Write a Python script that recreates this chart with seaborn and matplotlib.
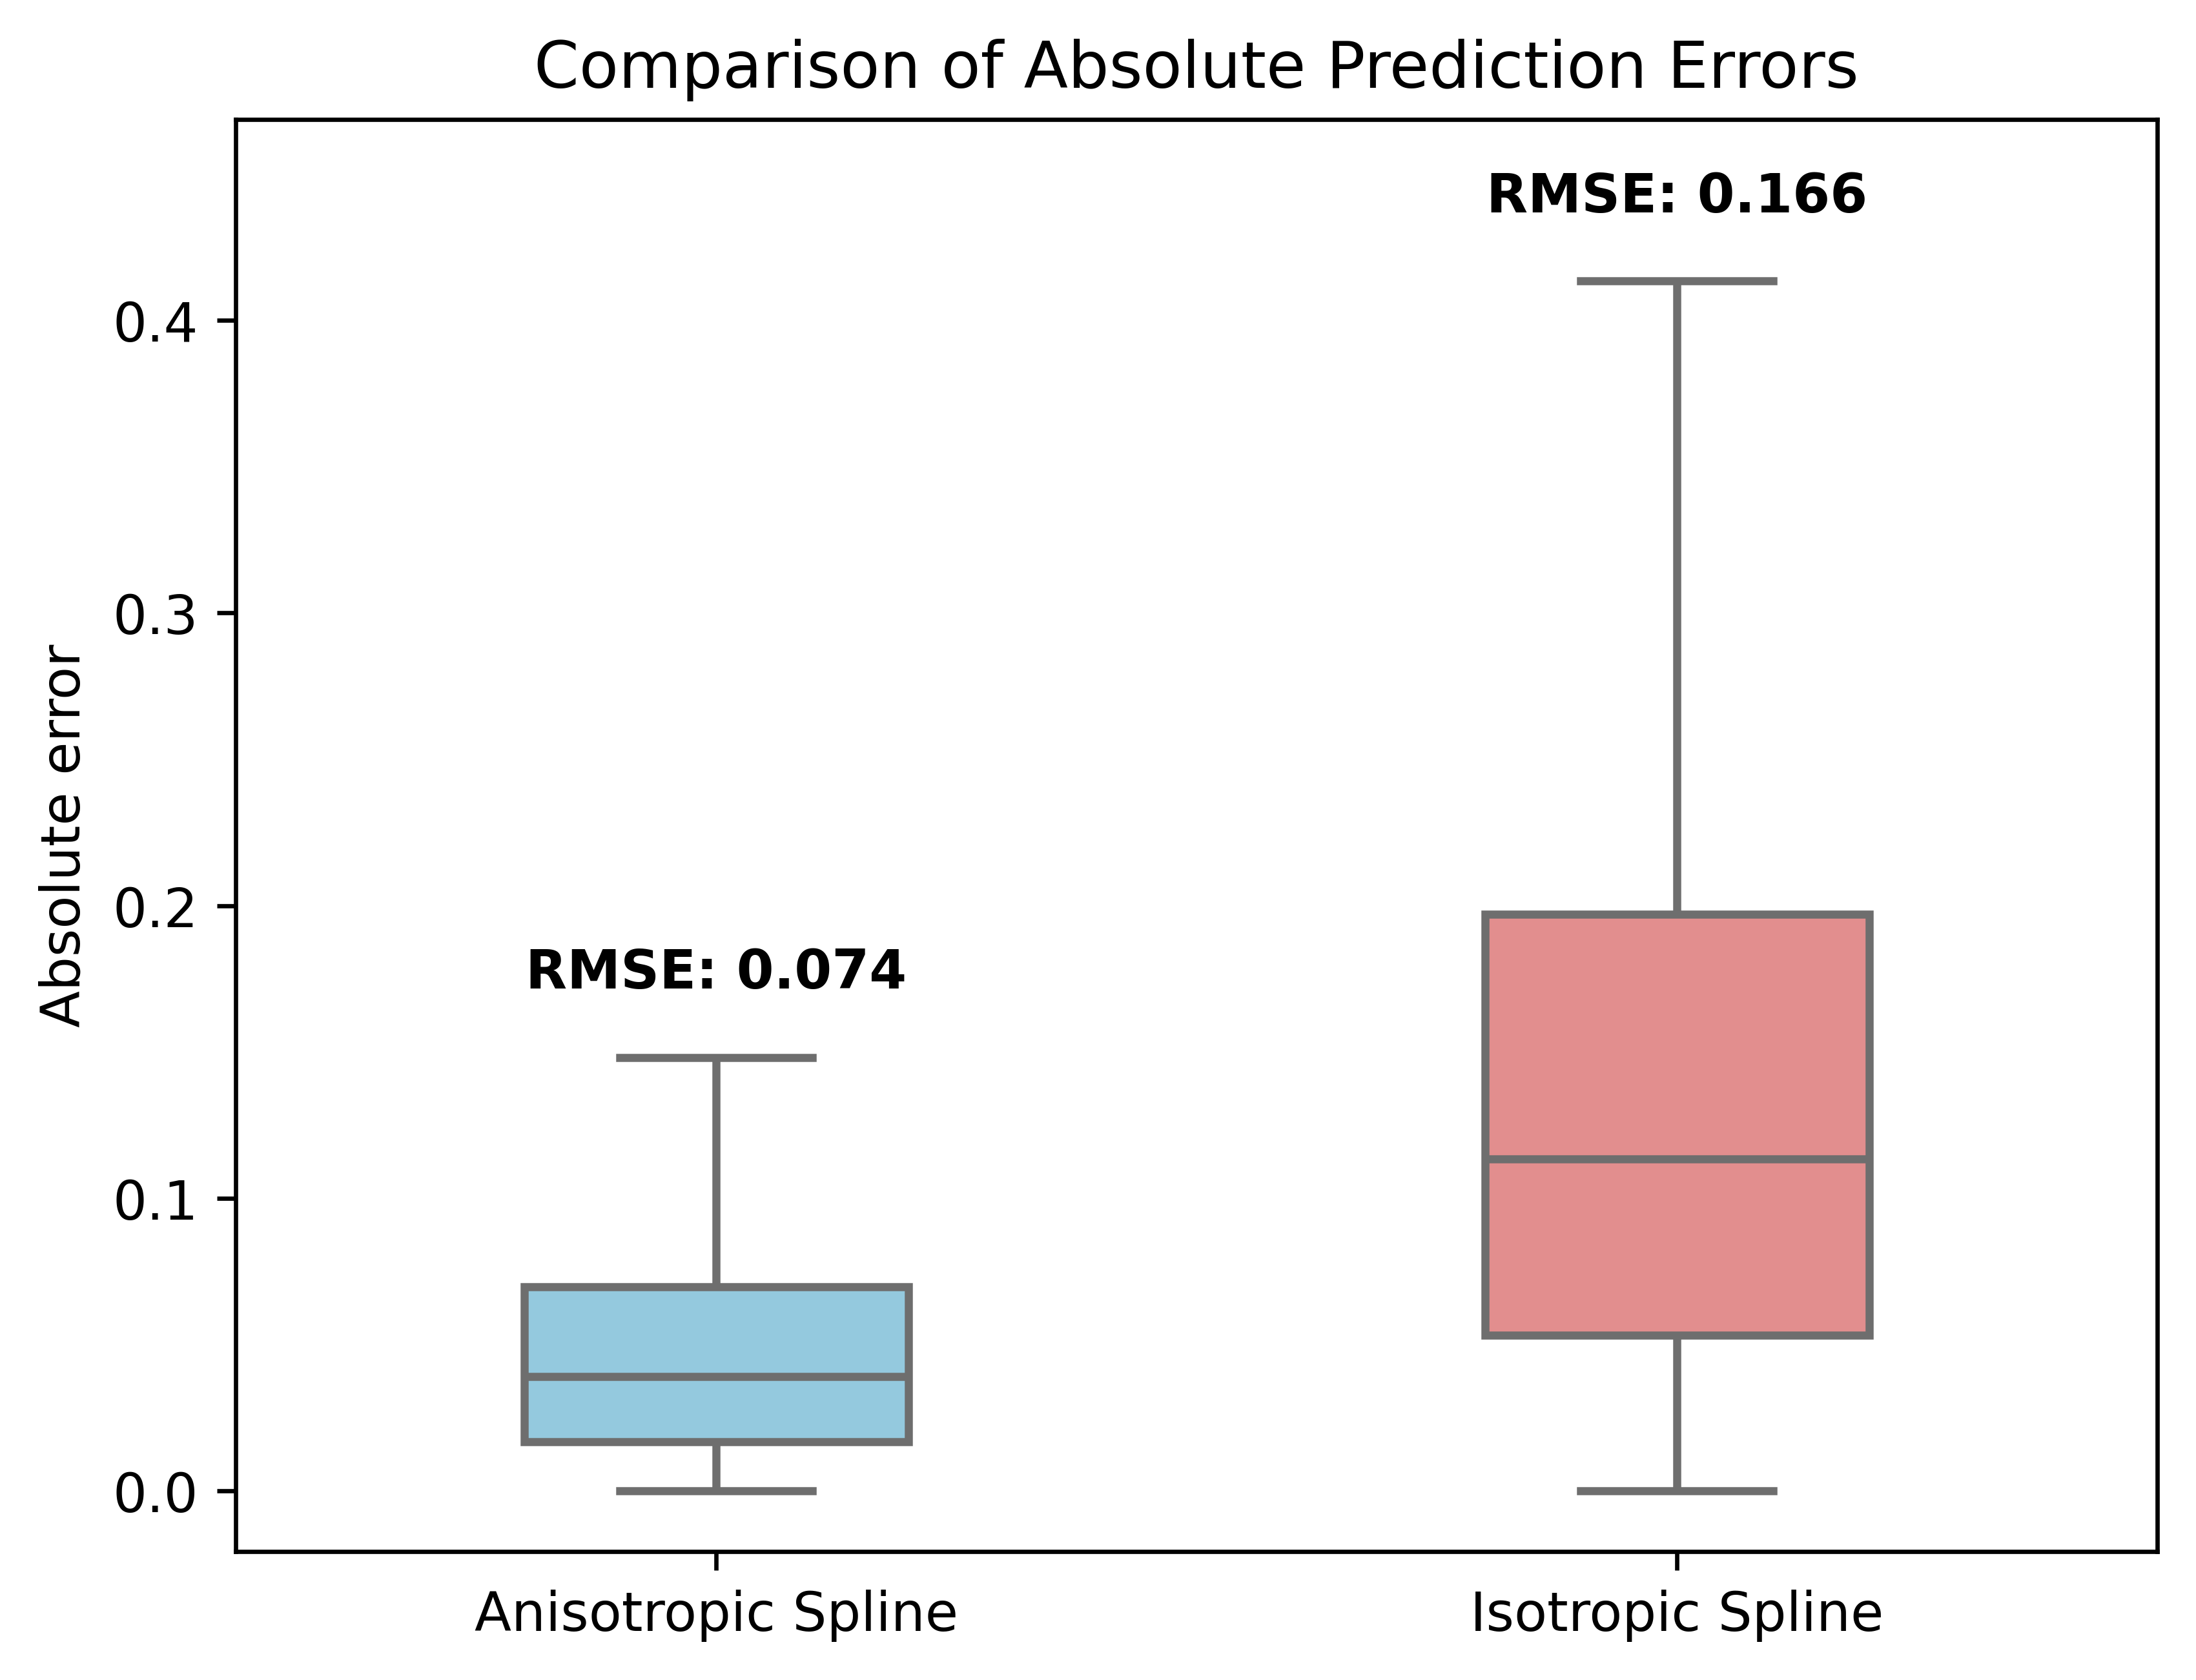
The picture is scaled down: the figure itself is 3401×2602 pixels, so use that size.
import pandas as pd
import numpy as np
import matplotlib
matplotlib.use('Agg')
import matplotlib.pyplot as plt
import seaborn as sns

## five-number summaries (min, q1, median, q3, max)
methods = ['Anisotropic Spline', 'Isotropic Spline']
anisotropic_errors = [0.0, 0.0167, 0.0390, 0.0697, 0.1481]
isotropic_errors = [0.0, 0.0531, 0.1133, 0.1971, 0.4135]
rmse_values = [0.074, 0.166]
box_colors = ['skyblue', 'lightcoral']

df = pd.DataFrame({
    'Method': [methods[0]] * len(anisotropic_errors) + [methods[1]] * len(isotropic_errors),
    'Absolute error': anisotropic_errors + isotropic_errors,
})

fig, ax = plt.subplots(figsize=(6.4, 4.8))
sns.boxplot(data=df, x='Method', y='Absolute error', hue='Method', order=methods,
            palette=box_colors, width=0.4, linewidth=1.5, whis=(0, 100),
            legend=False, ax=ax)

## RMSE label above each upper whisker
for i, errs in enumerate([anisotropic_errors, isotropic_errors]):
    ax.text(i, max(errs) + 0.02, 'RMSE: {:.3f}'.format(rmse_values[i]),
            ha='center', va='bottom', fontsize=10, fontweight='bold')

ax.set_ylim(-0.0207, 0.4687)
ax.set_xlabel('')
ax.set_ylabel('Absolute error')
ax.set_title('Comparison of Absolute Prediction Errors')

fig.savefig('out.png', dpi=600, bbox_inches='tight')
